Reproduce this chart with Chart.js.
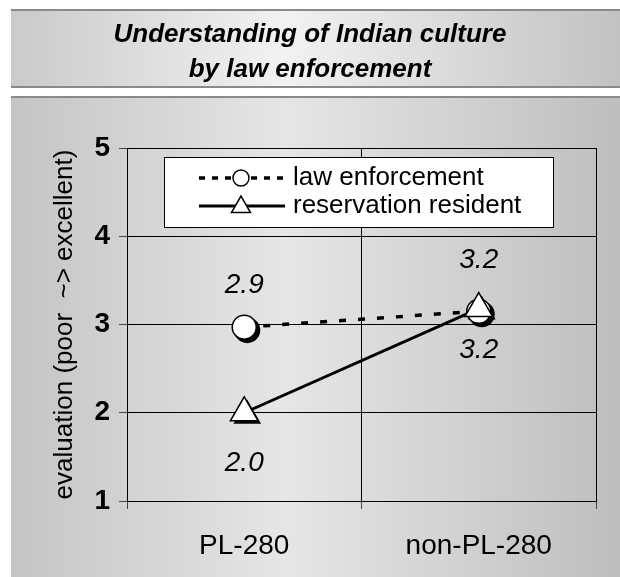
<!DOCTYPE html>
<html>
<head>
<meta charset="utf-8">
<script src="https://cdn.jsdelivr.net/npm/chart.js@4.4.1/dist/chart.umd.min.js"></script>
<style>
html, body { margin: 0; padding: 0; background: #fff; }
#wrap { width: 620px; height: 577px; }
</style>
</head>
<body>
<div id="wrap"><canvas id="chart" width="620" height="577"></canvas></div>
<script>
var categories = ['PL-280', 'non-PL-280'];
var lawEnforcement = [2.97, 3.15];
var reservationResident = [2.0, 3.18];
var lawLabels = ['2.9', '3.2'];
var residentLabels = ['2.0', '3.2'];
var titleLines = ['Understanding of Indian culture', 'by law enforcement'];
var yTitle = 'evaluation (poor  ~> excellent)';
var seriesNames = ['law enforcement', 'reservation resident'];

var FONT = '"Liberation Sans", Arial, sans-serif';

function triPath(ctx, x, y, r) {
    ctx.beginPath();
    ctx.moveTo(x, y - r);
    ctx.lineTo(x + Math.sin(2 * Math.PI / 3) * r, y - Math.cos(2 * Math.PI / 3) * r);
    ctx.lineTo(x + Math.sin(4 * Math.PI / 3) * r, y - Math.cos(4 * Math.PI / 3) * r);
    ctx.closePath();
}

// bands, title, shadows, labels, legend
var decor = {
    id: 'decor',
    beforeDraw: function (chart) {
        var ctx = chart.ctx;
        ctx.save();
        ctx.fillStyle = '#fff';
        ctx.fillRect(0, 0, 620, 577);

        var g1 = ctx.createLinearGradient(11, 0, 620, 0);
        g1.addColorStop(0, '#cacaca');
        g1.addColorStop(0.45, '#f2f2f2');
        g1.addColorStop(1, '#c2c2c2');
        ctx.fillStyle = g1;
        ctx.fillRect(11, 10, 609, 77);
        ctx.fillStyle = '#8a8a8a';
        ctx.fillRect(11, 9, 609, 2);
        ctx.fillRect(11, 86, 609, 2);

        var g2 = ctx.createLinearGradient(11, 0, 620, 0);
        g2.addColorStop(0, '#c4c4c4');
        g2.addColorStop(0.45, '#e6e6e6');
        g2.addColorStop(1, '#bebebe');
        ctx.fillStyle = g2;
        ctx.fillRect(11, 97, 609, 480);
        ctx.fillStyle = '#8a8a8a';
        ctx.fillRect(11, 96, 609, 2);

        ctx.fillStyle = '#000';
        ctx.font = 'italic bold 26px ' + FONT;
        ctx.textAlign = 'center';
        ctx.textBaseline = 'alphabetic';
        ctx.fillText(titleLines[0], 310, 42);
        ctx.fillText(titleLines[1], 310, 77);
        ctx.restore();
    },
    beforeDatasetsDraw: function (chart) {
        var ctx = chart.ctx;
        ctx.save();
        ctx.fillStyle = '#000';
        chart.data.datasets.forEach(function (ds, i) {
            var meta = chart.getDatasetMeta(i);
            meta.data.forEach(function (pt) {
                var r = ds.pointRadius;
                if (ds.pointStyle === 'triangle') {
                    triPath(ctx, pt.x + 3, pt.y + 3, r);
                } else {
                    ctx.beginPath();
                    ctx.arc(pt.x + 3, pt.y + 3, r + 1, 0, Math.PI * 2);
                }
                ctx.fill();
            });
        });
        ctx.restore();
    },
    afterDatasetsDraw: function (chart) {
        var ctx = chart.ctx;
        ctx.save();
        ctx.fillStyle = '#000';
        ctx.font = 'italic 28px ' + FONT;
        ctx.textAlign = 'center';
        ctx.textBaseline = 'middle';
        chart.data.datasets.forEach(function (ds, i) {
            var meta = chart.getDatasetMeta(i);
            meta.data.forEach(function (pt, j) {
                ctx.fillText(ds.valueLabels[j], pt.x, pt.y + ds.labelOffsets[j]);
            });
        });

        // legend
        var a = chart.chartArea;
        var lx = a.left + 37, ly = a.top + 9, lw = 389, lh = 70;
        ctx.fillStyle = '#fff';
        ctx.fillRect(lx, ly, lw, lh);
        ctx.strokeStyle = '#000';
        ctx.lineWidth = 1;
        ctx.strokeRect(lx + 0.5, ly + 0.5, lw, lh);

        var r1 = ly + 21, r2 = ly + 49, sx = lx + 35, ex = lx + 121, mx = lx + 77;
        ctx.lineWidth = 3.5;
        ctx.setLineDash([6, 7]);
        ctx.beginPath();
        ctx.moveTo(sx, r1);
        ctx.lineTo(ex, r1);
        ctx.stroke();
        ctx.setLineDash([]);
        ctx.beginPath();
        ctx.arc(mx, r1, 8, 0, Math.PI * 2);
        ctx.fillStyle = '#fff';
        ctx.fill();
        ctx.lineWidth = 1.5;
        ctx.stroke();

        ctx.lineWidth = 3;
        ctx.beginPath();
        ctx.moveTo(sx, r2);
        ctx.lineTo(ex, r2);
        ctx.stroke();
        triPath(ctx, mx, r2 + 1, 11);
        ctx.fill();
        ctx.lineWidth = 1.5;
        ctx.stroke();

        ctx.fillStyle = '#000';
        ctx.font = '26px ' + FONT;
        ctx.textAlign = 'left';
        ctx.fillText(seriesNames[0], lx + 129, r1);
        ctx.fillText(seriesNames[1], lx + 129, r2);
        ctx.restore();
    }
};

var ctx = document.getElementById('chart').getContext('2d');
var chart = new Chart(ctx, {
    type: 'line',
    data: {
        labels: categories,
        datasets: [{
            label: seriesNames[0],
            data: lawEnforcement,
            valueLabels: lawLabels,
            labelOffsets: [-42, 39],
            borderColor: '#000',
            borderWidth: 3.5,
            borderDash: [7, 12],
            pointStyle: 'circle',
            pointRadius: 12,
            pointBorderWidth: 1.5,
            pointBackgroundColor: '#fff',
            pointBorderColor: '#000',
            fill: false,
            order: 2
        }, {
            label: seriesNames[1],
            data: reservationResident,
            valueLabels: residentLabels,
            labelOffsets: [50, -48],
            borderColor: '#000',
            borderWidth: 3,
            pointStyle: 'triangle',
            pointRadius: 16,
            pointBorderWidth: 1.5,
            pointBackgroundColor: '#fff',
            pointBorderColor: '#000',
            fill: false,
            order: 1
        }]
    },
    options: {
        responsive: false,
        animation: false,
        layout: { padding: { left: 0, right: 24, top: 148, bottom: 0 } },
        plugins: {
            legend: { display: false },
            tooltip: { enabled: false }
        },
        scales: {
            x: {
                offset: true,
                grid: { color: '#000', tickColor: '#444', tickLength: 8, offset: true },
                border: { color: '#000' },
                ticks: { color: '#000', font: { family: FONT, size: 28 }, padding: 20 },
                afterFit: function (s) { s.height = 76; }
            },
            y: {
                min: 1,
                max: 5,
                grid: { color: '#000', tickColor: '#444', tickLength: 8 },
                border: { color: '#000' },
                ticks: { stepSize: 1, color: '#000', font: { family: FONT, size: 28, weight: 'bold' }, padding: 9 },
                title: { display: true, text: yTitle, color: '#000', font: { family: FONT, size: 26 }, padding: { top: 49, bottom: 0 } },
                afterFit: function (s) { s.width = 127; }
            }
        }
    },
    plugins: [decor]
});
</script>
</body>
</html>
